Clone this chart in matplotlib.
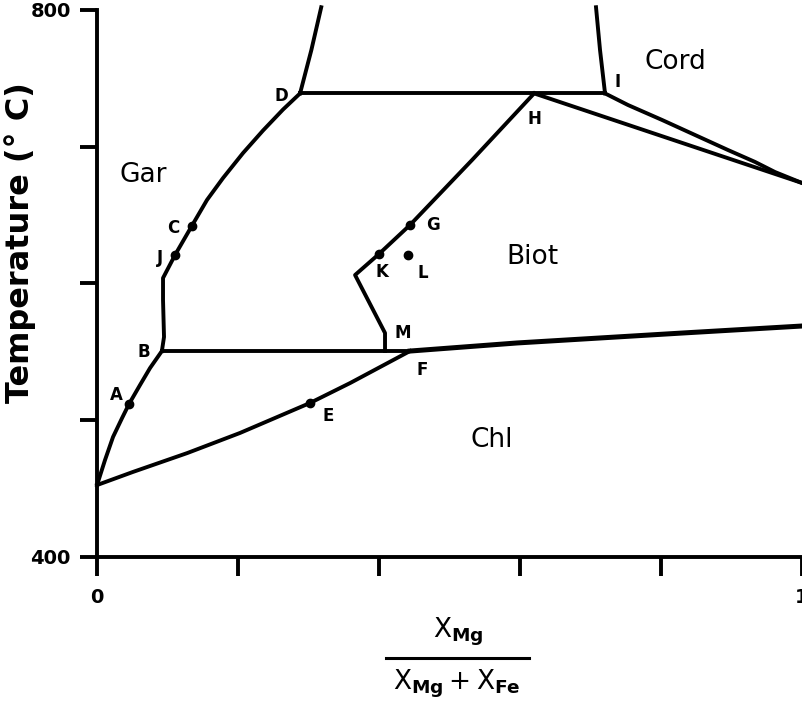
#!/usr/bin/env python
"""T-X(Mg) phase relations of garnet, biotite, chlorite and cordierite,
with the tie-line corners labelled A-M. Writes out.png."""

import matplotlib
matplotlib.use("Agg")
import matplotlib.pyplot as plt

plt.rcParams["font.family"] = "DejaVu Sans"
plt.rcParams["mathtext.fontset"] = "dejavusans"

# boundary curves, x = XMg/(XMg+XFe), T in degC
gar_chl_x = [0.0, 0.0113, 0.0227, 0.0355, 0.0454, 0.061, 0.0752, 0.092]
gar_chl_t = [452.6, 470.9, 487.8, 501.6, 511.9, 525.8, 538.2, 550.6]

gar_biot_x = [0.092, 0.095, 0.0936, 0.0936, 0.1106, 0.1348, 0.156, 0.1787,
              0.2071, 0.2355, 0.2638, 0.288]
gar_biot_t = [550.6, 560.9, 587.9, 604.0, 620.8, 642.4, 661.1, 677.1,
              695.4, 711.9, 727.2, 739.0]

gar_top_x = [0.288, 0.304, 0.318]
gar_top_t = [739.0, 770.7, 802.0]

cord_top_x = [0.7206, 0.7135, 0.7078]
cord_top_t = [739.0, 770.7, 802.0]

di_x = [0.288, 0.7206]
di_t = [739.0, 739.0]

biot_x = [0.620, 0.532, 0.444, 0.400, 0.366, 0.4085, 0.4085]
biot_t = [739.0, 690.3, 642.8, 621.6, 606.2, 563.8, 550.6]

bf_x = [0.092, 0.444]
bf_t = [550.6, 550.6]

chl_x = [0.0, 0.051, 0.128, 0.2028, 0.302, 0.359, 0.444]
chl_t = [452.6, 462.2, 476.0, 490.7, 512.6, 527.2, 550.6]

f_right_x = [0.444, 0.5957, 0.831, 1.0]
f_right_t = [550.6, 556.5, 563.8, 568.9]

h_right_x = [0.620, 1.0]
h_right_t = [739.0, 673.5]

i_right_x = [0.7206, 0.7532, 0.8014, 0.8482, 0.8950, 0.9333, 0.9617, 1.0]
i_right_t = [739.0, 730.5, 719.6, 708.6, 697.6, 688.9, 681.5, 673.5]

# analysed compositions
dot_x = [0.0454, 0.1106, 0.1348, 0.302, 0.444, 0.400, 0.441]
dot_t = [511.9, 620.8, 642.4, 512.6, 642.8, 621.6, 620.8]

# point letters and their label positions
letters = ["A", "B", "C", "D", "E", "F", "G", "H", "I", "J", "K", "L", "M"]
letter_x = [0.028, 0.067, 0.108, 0.261, 0.328, 0.461, 0.477, 0.620, 0.739,
            0.089, 0.404, 0.462, 0.433]
letter_t = [518.5, 549.9, 640.6, 737.1, 503.1, 536.7, 642.8, 720.3, 747.3,
            618.6, 608.4, 607.7, 563.8]

phases = ["Gar", "Cord", "Biot", "Chl"]
phase_x = [0.065, 0.820, 0.617, 0.560]
phase_t = [679.3, 762.0, 619.4, 485.6]

xticks = [0.0, 0.2, 0.4, 0.6, 0.8, 1.0]
xticklabels = ["0", "", "", "", "", "1"]
yticks = [400, 500, 600, 700, 800]
yticklabels = ["400", "", "", "", "800"]

fig = plt.figure(figsize=(8.02, 7.03), dpi=100)
ax = fig.add_axes([0.121, 0.2077, 0.879, 0.7781])

lw = 2.8
curves = [(gar_chl_x, gar_chl_t), (gar_biot_x, gar_biot_t), (gar_top_x, gar_top_t),
          (cord_top_x, cord_top_t), (di_x, di_t), (biot_x, biot_t), (bf_x, bf_t),
          (chl_x, chl_t), (h_right_x, h_right_t), (i_right_x, i_right_t)]
for cx, ct in curves:
    ax.plot(cx, ct, color="black", lw=lw, clip_on=False, solid_joinstyle="round")
ax.plot(f_right_x, f_right_t, color="black", lw=3.6, clip_on=False)

ax.plot(dot_x, dot_t, "o", color="black", ms=6, clip_on=False)

for s, x, t in zip(letters, letter_x, letter_t):
    ax.text(x, t, s, fontsize=12, fontweight="bold", ha="center", va="center")
for s, x, t in zip(phases, phase_x, phase_t):
    ax.text(x, t, s, fontsize=19, ha="center", va="center")

ax.set_xlim(0, 1)
ax.set_ylim(400, 800)
for side in ["top", "right"]:
    ax.spines[side].set_visible(False)
for side in ["left", "bottom"]:
    ax.spines[side].set_linewidth(2.8)

ax.set_xticks(xticks)
ax.set_xticklabels(xticklabels, fontsize=14, fontweight="bold")
ax.set_yticks(yticks)
ax.set_yticklabels(yticklabels, fontsize=14, fontweight="bold")
ax.tick_params(axis="x", length=14, width=2.8, pad=8)
ax.tick_params(axis="y", length=12, width=2.8, pad=7)

ax.set_ylabel("Temperature (° C)", fontsize=23, fontweight="bold")
ax.yaxis.set_label_coords(-0.086, 0.574)

# x label as a stacked fraction
ax.text(0.512, -0.137, r"$\mathrm{X}_{\mathbf{Mg}}$", transform=ax.transAxes,
        fontsize=19, ha="center", va="center")
ax.plot([0.410, 0.613], [-0.185, -0.185], transform=ax.transAxes,
        color="black", lw=2.2, clip_on=False)
ax.text(0.510, -0.232, r"$\mathrm{X}_{\mathbf{Mg}}+\mathrm{X}_{\mathbf{Fe}}$",
        transform=ax.transAxes, fontsize=19, ha="center", va="center")

fig.savefig("out.png", dpi=100)
